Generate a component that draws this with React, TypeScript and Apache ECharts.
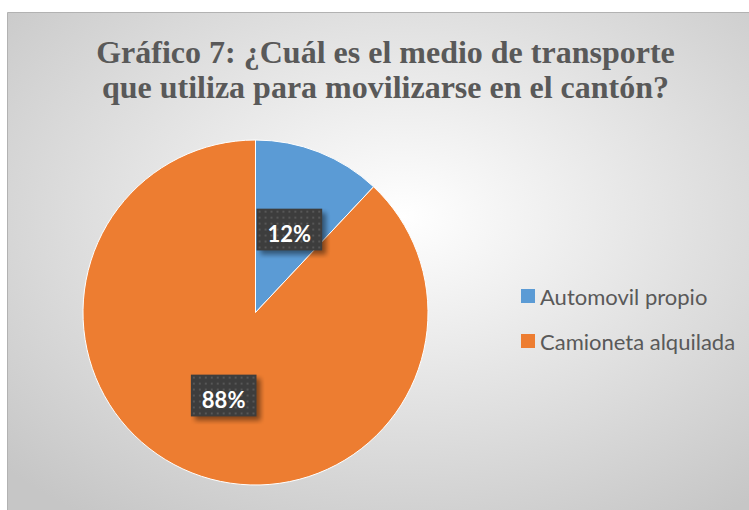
import React, { useEffect, useRef } from "react";
import * as echarts from "echarts";

const titleLines = ["Gráfico 7: ¿Cuál es el medio de transporte", "que utiliza para movilizarse en el cantón?"];
const categories = ["Automovil propio", "Camioneta alquilada"];
const percentages = [12, 88];
const colors = ["#5B9BD5", "#ED7D31"];

function makePattern(w: number, h: number, sh: number): string {
  const c = document.createElement("canvas");
  c.width = w + sh * 2;
  c.height = h + sh * 2;
  const ctx = c.getContext("2d");
  if (!ctx) return "";
  ctx.save();
  ctx.shadowColor = "rgba(0,0,0,0.45)";
  ctx.shadowBlur = 5;
  ctx.shadowOffsetX = sh;
  ctx.shadowOffsetY = sh;
  ctx.fillStyle = "#3d3d3d";
  ctx.fillRect(0, 0, w, h);
  ctx.restore();
  ctx.fillStyle = "#3d3d3d";
  ctx.fillRect(0, 0, w, h);
  ctx.fillStyle = "#575757";
  for (let y = 2; y < h - 1; y += 6) {
    for (let x = 2; x < w - 1; x += 6) {
      ctx.fillRect(x, y, 2, 2);
    }
  }
  return c.toDataURL();
}

export default function App() {
  const ref = useRef<HTMLDivElement>(null);
  useEffect(() => {
    if (!ref.current) return;
    const chart = echarts.init(ref.current, undefined, { renderer: "svg" });
    const sh = 4;
    const pattern = makePattern(66, 42, sh);
    chart.setOption({
      animation: false,
      graphic: [
        {
          type: "rect",
          z: -10,
          shape: { x: 7.5, y: 12.5, width: 760, height: 510 },
          style: {
            fill: {
              type: "radial",
              x: 0.52,
              y: 0.4,
              r: 0.72,
              colorStops: [
                { offset: 0, color: "#ffffff" },
                { offset: 1, color: "#c6c6c6" },
              ],
            },
            stroke: "#b2b2b2",
            lineWidth: 1,
          },
        },
        {
          type: "text",
          x: 385.5,
          y: 52,
          style: {
            text: titleLines[0],
            align: "center",
            verticalAlign: "middle",
            font: "bold 32px 'Liberation Serif'",
            fill: "#595959",
          },
        },
        {
          type: "text",
          x: 385.5,
          y: 87,
          style: {
            text: titleLines[1],
            align: "center",
            verticalAlign: "middle",
            font: "bold 32px 'Liberation Serif'",
            fill: "#595959",
          },
        },
      ],
      legend: {
        orient: "vertical",
        left: 516,
        top: 278,
        icon: "rect",
        itemWidth: 14,
        itemHeight: 14,
        itemGap: 19,
        itemStyle: { borderWidth: 0 },
        data: categories,
        textStyle: { fontFamily: "Lato", fontSize: 22, color: "#595959", lineHeight: 26 },
      },
      series: [
        {
          type: "pie",
          center: [255.5, 312.5],
          radius: 172.5,
          startAngle: 90,
          clockwise: true,
          color: colors,
          itemStyle: { borderColor: "#ffffff", borderWidth: 1 },
          label: {
            show: true,
            position: "inside",
            formatter: (p: any) => percentages[p.dataIndex] + "%",
            color: "#ffffff",
            fontFamily: "Lato",
            fontWeight: "bold",
            fontSize: 22,
            lineHeight: 26,
            offset: [5, 4],
            padding: [8, 11 + sh * 2, 8 + sh * 2, 11],
            backgroundColor: { image: pattern },
          },
          labelLine: { show: false },
          data: categories.map((name, i) => ({ name, value: percentages[i] })),
        },
      ],
    });
    return () => chart.dispose();
  }, []);
  return (
    <div
      ref={ref}
      style={{ position: "fixed", left: 0, top: 0, width: 749, height: 510, background: "#ffffff" }}
    />
  );
}
